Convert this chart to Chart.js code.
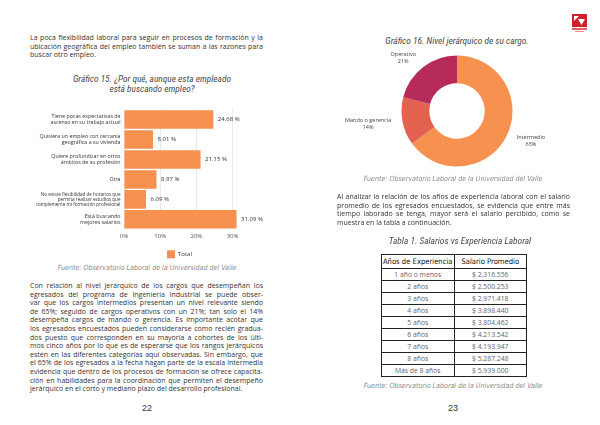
<!DOCTYPE html>
<html><head><meta charset="utf-8">
<script src="https://cdn.jsdelivr.net/npm/chart.js@4.4.1/dist/chart.umd.min.js"></script>
<style>
html,body{margin:0;padding:0;background:#fff;}
body{width:600px;height:425px;position:relative;overflow:hidden;font-family:"Open Sans",sans-serif;color:#3a3a3a;}
.abs{position:absolute;}
.para{position:absolute;font-size:7px;line-height:8.6px;color:#333;}
.para div{text-align:justify;text-align-last:justify;white-space:nowrap;}
.para div.last{text-align-last:left;}
.title{position:absolute;font-family:"Liberation Sans Narrow","Roboto Condensed","DejaVu Sans Condensed",sans-serif;font-stretch:condensed;font-style:italic;font-size:9.4px;line-height:9.5px;color:#4a4a4a;text-align:center;width:300px;}
.src{position:absolute;font-family:"Liberation Sans Narrow","DejaVu Sans Condensed",sans-serif;font-stretch:condensed;font-style:italic;font-size:7.05px;color:#8a8a8a;text-align:center;width:300px;line-height:9px;}
.pnum{position:absolute;font-family:"Liberation Sans",Arial,sans-serif;font-size:9px;color:#333;width:40px;text-align:center;line-height:10px;}
table{border-collapse:collapse;position:absolute;left:381px;top:254px;width:146px;table-layout:fixed;}
th{font-family:"Liberation Sans Narrow","DejaVu Sans Condensed",sans-serif;font-stretch:condensed;font-weight:normal;font-size:7.6px;color:#111;height:13px;padding:0;border:1px solid #222;white-space:nowrap;line-height:13px;}
td{font-size:6.8px;color:#666;height:11px;padding:0;border:1px solid #222;text-align:center;line-height:11px;white-space:nowrap;}
</style></head>
<body>
<!-- Left page -->
<div class="para" style="left:30px;top:34px;width:233px;">
<div>La poca flexibilidad laboral para seguir en procesos de formación y la</div>
<div>ubicación geográfica del empleo también se suman a las razones para</div>
<div class="last">buscar otro empleo.</div>
</div>
<div class="title" style="left:2px;top:74px;">Gráfico 15. ¿Por qué, aunque esta empleado<br>está buscando empleo?</div>
<canvas id="bar" class="abs" style="left:20px;top:100px;width:255px;height:162px;"></canvas>
<div class="src" style="left:-3px;top:263px;">Fuente: Observatorio Laboral de la Universidad del Valle</div>
<div class="para" style="left:30px;top:282px;width:233px;">
<div>Con relación al nivel jerárquico de los cargos que desempeñan los</div>
<div>egresados del programa de Ingeniería Industrial se puede obser-</div>
<div>var que los cargos intermedios presentan un nivel relevante siendo</div>
<div>de 65%; seguido de cargos operativos con un 21%; tan solo el 14%</div>
<div>desempeña cargos de mando o gerencia. Es importante acotar que</div>
<div>los egresados encuestados pueden considerarse como recién gradua-</div>
<div>dos puesto que corresponden en su mayoría a cohortes de los últi-</div>
<div>mos cinco años por lo que es de esperarse que los rangos jerárquicos</div>
<div>estén en las diferentes categorías aquí observadas. Sin embargo, que</div>
<div>el 65% de los egresados a la fecha hagan parte de la escala intermedia</div>
<div>evidencia que dentro de los procesos de formación se ofrece capacita-</div>
<div>ción en habilidades para la coordinación que permiten el desempeño</div>
<div class="last">jerárquico en el corto y mediano plazo del desarrollo profesional.</div>
</div>
<div class="pnum" style="left:127px;top:403px;">22</div>

<!-- Right page -->
<div class="abs" style="left:572px;top:14px;width:15px;height:13px;background:#d0202a;"></div>
<div class="abs" style="left:574px;top:16px;width:5px;height:5px;background:#fff;clip-path:polygon(0 0,100% 0,0 100%);"></div>
<div class="abs" style="left:578px;top:19px;width:7px;height:6px;background:#fff;clip-path:polygon(0 0,100% 0,50% 100%);"></div>
<div class="abs" style="left:572px;top:28px;width:15px;height:2px;background:#e06060;"></div>
<div class="abs" style="left:575px;top:31px;width:9px;height:1px;background:#e59090;"></div>
<div class="title" style="left:307px;top:36px;">Gráfico 16. Nivel jerárquico de su cargo.</div>
<canvas id="donut" class="abs" style="left:340px;top:45px;width:234px;height:132px;"></canvas>
<div class="src" style="left:303px;top:174px;">Fuente: Observatorio Laboral de la Universidad del Valle</div>
<div class="para" style="left:337px;top:193px;width:233px;">
<div>Al analizar la relación de los años de experiencia laboral con el salario</div>
<div>promedio de los egresados encuestados, se evidencia que entre más</div>
<div>tiempo laborado se tenga, mayor será el salario percibido, como se</div>
<div class="last">muestra en la tabla a continuación.</div>
</div>
<div class="title" style="left:310px;top:236px;">Tabla 1. Salarios vs Experiencia Laboral</div>
<table id="tbl"><thead><tr><th>Años de Experiencia</th><th>Salario Promedio</th></tr></thead><tbody></tbody></table>
<div class="src" style="left:303px;top:381px;">Fuente: Observatorio Laboral de la Universidad del Valle</div>
<div class="pnum" style="left:433px;top:403px;">23</div>

<script>
// ---- Data ----
const barCategories = [
  ["Tiene pocas expectativas de", "ascenso en su trabajo actual"],
  ["Quisiera un empleo con cercanía", "geográfica a su vivienda"],
  ["Quiere profundizar en otros", "ámbitos de su profesión"],
  ["Otra"],
  ["No existe flexibilidad de horarios que", "permita realizar estudios que", "complemente mi formación profesional"],
  ["Está buscando", "mejores salarios"]
];
const barValues = [24.68, 8.01, 21.15, 8.97, 6.09, 31.09];
const barSeriesName = "Total";
const xTickValues = [0, 10, 20, 30];

const donutLabels = ["Intermedio", "Mando o gerencia", "Operativo"];
const donutValues = [65, 14, 21];

const tableYears = ["1 año o menos", "2 años", "3 años", "4 años", "5 años", "6 años", "7 años", "8 años", "Más de 8 años"];
const tableSalaries = ["$ 2.316.556", "$ 2.500.253", "$ 2.971.418", "$ 3.898.440", "$ 3.804.462", "$ 4.213.542", "$ 4.193.947", "$ 5.287.248", "$ 5.939.000"];

// ---- Table ----
const tb = document.querySelector('#tbl tbody');
tableYears.forEach((y, i) => {
  const tr = document.createElement('tr');
  tr.innerHTML = '<td>' + y + '</td><td>' + tableSalaries[i] + '</td>';
  tb.appendChild(tr);
});

const ORANGE = '#f7914f';

// ---- Bar chart ----
const barLabelPlugin = {
  id: 'barLabels',
  afterDatasetsDraw(chart) {
    const ctx = chart.ctx;
    const meta = chart.getDatasetMeta(0);
    ctx.save();
    ctx.font = '6px "Open Sans"';
    ctx.fillStyle = '#333';
    ctx.textBaseline = 'middle';
    ctx.textAlign = 'left';
    meta.data.forEach((el, i) => {
      ctx.fillText(barValues[i].toFixed(2) + ' %', el.x + 4.5, el.y);
    });
    // legend
    const ds = chart.data.datasets[0];
    const lx = chart.chartArea.left + 43, ly = chart.chartArea.bottom + 25;
    ctx.fillStyle = ds.backgroundColor;
    ctx.fillRect(lx, ly - 4, 8, 8);
    ctx.fillStyle = '#333';
    ctx.fillText(ds.label, lx + 11, ly);
    ctx.restore();
  }
};

new Chart(document.getElementById('bar'), {
  type: 'bar',
  data: {
    labels: barCategories,
    datasets: [{ label: barSeriesName, data: barValues, backgroundColor: ORANGE, barPercentage: 0.93, categoryPercentage: 1 }]
  },
  options: {
    indexAxis: 'y',
    responsive: false,
    animation: false,
    layout: { padding: { top: 6.3, bottom: 20.7, left: 0, right: 6.2 } },
    plugins: { legend: { display: false }, tooltip: { enabled: false } },
    scales: {
      x: {
        min: 0, max: 40,
        afterBuildTicks: (axis) => { axis.ticks = xTickValues.map(v => ({ value: v })); },
        afterFit: (s) => { s.height = 12; },
        grid: { color: '#e4e4e4', drawTicks: false, lineWidth: 0.8 },
        border: { display: false },
        ticks: { padding: 3, color: '#555', font: { size: 6, family: 'Open Sans' }, callback: (v) => v + '%' }
      },
      y: {
        afterFit: (s) => { s.width = 104; },
        grid: { display: false, drawTicks: false },
        border: { display: false },
        ticks: {
          padding: 3.5, color: '#333', autoSkip: false,
          font: (c) => (c.index === 4 ? { size: 4.6, family: 'Open Sans', lineHeight: 1.1 } : { size: 5.3, family: 'Open Sans', lineHeight: 1.15 })
        }
      }
    }
  },
  plugins: [barLabelPlugin]
});

// ---- Doughnut ----
const donutLabelPlugin = {
  id: 'donutLabels',
  afterDatasetsDraw(chart) {
    const ctx = chart.ctx;
    const meta = chart.getDatasetMeta(0);
    const total = donutValues.reduce((a, b) => a + b, 0);
    ctx.save();
    ctx.font = '5.5px "Open Sans"';
    ctx.fillStyle = '#444';
    ctx.textBaseline = 'middle';
    ctx.textAlign = 'center';
    meta.data.forEach((arc, i) => {
      const mid = (arc.startAngle + arc.endAngle) / 2;
      const r = arc.outerRadius + 11.5;
      const ax = arc.x + Math.cos(mid) * r;
      const ay = arc.y + Math.sin(mid) * r;
      const l1 = donutLabels[i];
      const l2 = Math.round(donutValues[i] / total * 100) + '%';
      const w = Math.max(ctx.measureText(l1).width, ctx.measureText(l2).width);
      const cx = Math.cos(mid) >= 0 ? ax + w / 2 : ax - w / 2;
      ctx.fillText(l1, cx, ay - 3.5);
      ctx.fillText(l2, cx, ay + 3.5);
    });
    ctx.restore();
  }
};

new Chart(document.getElementById('donut'), {
  type: 'doughnut',
  data: {
    labels: donutLabels,
    datasets: [{ data: donutValues, backgroundColor: [ORANGE, '#e2624f', '#b72b5b'], borderWidth: 0 }]
  },
  options: {
    responsive: false,
    animation: false,
    cutout: '50%',
    layout: { padding: 10.5 },
    plugins: { legend: { display: false }, tooltip: { enabled: false } }
  },
  plugins: [donutLabelPlugin]
});
</script>
</body></html>
